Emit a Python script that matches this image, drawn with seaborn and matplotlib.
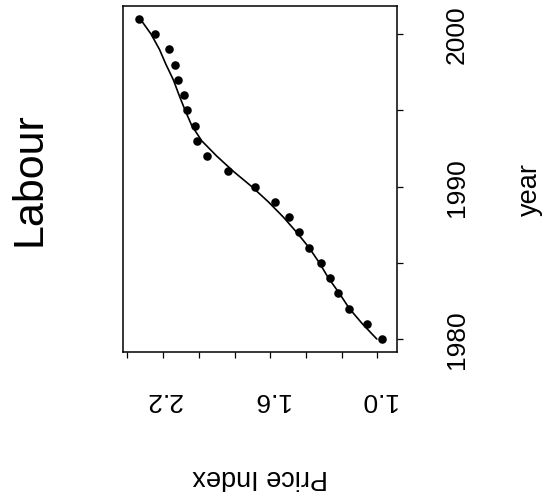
import matplotlib
matplotlib.use("Agg")
import matplotlib.pyplot as plt
import seaborn as sns
import pandas as pd

years = list(range(1980, 2002))
price_index = [0.975, 1.056, 1.157, 1.218, 1.265, 1.317, 1.384, 1.439, 1.495, 1.571,
               1.683, 1.835, 1.954, 2.010, 2.021, 2.066, 2.083, 2.118, 2.132, 2.165,
               2.247, 2.333]
fitted = [1.003, 1.084, 1.157, 1.213, 1.274, 1.325, 1.383, 1.452, 1.527, 1.611,
          1.704, 1.807, 1.900, 1.984, 2.040, 2.077, 2.111, 2.143, 2.184, 2.221,
          2.268, 2.329]
x_ticks = [1.0, 1.2, 1.4, 1.6, 1.8, 2.0, 2.2, 2.4]
x_ticklabels = ["1.0", "", "", "1.6", "", "", "2.2", ""]
y_ticks = [1980, 1985, 1990, 1995, 2000]
y_ticklabels = ["1980", "", "1990", "", "2000"]
title = "Labour"
xlabel = "Price Index"
ylabel = "year"

df = pd.DataFrame({"year": years, "price": price_index, "fit": fitted})

sns.set_style("ticks")
plt.rcParams["font.family"] = ["Liberation Sans", "DejaVu Sans"]
plt.rcParams["text.color"] = "black"
plt.rcParams["xtick.labelcolor"] = "black"
plt.rcParams["ytick.labelcolor"] = "black"

fig = plt.figure(figsize=(5.46, 5.02), dpi=100)
ax = fig.add_axes([0.2253, 0.2968, 0.5018, 0.6892])

sns.lineplot(data=df, x="fit", y="year", sort=False, estimator=None,
             color="black", linewidth=1.2, ax=ax)
sns.scatterplot(data=df, x="price", y="year", color="black", s=38,
                edgecolor="black", linewidth=0, ax=ax, zorder=3)

ax.set_xlim(2.425, 0.89)
ax.set_ylim(1979.15, 2001.84)
ax.set_xlabel("")
ax.set_ylabel("")

ax.set_xticks(x_ticks)
ax.set_xticklabels(x_ticklabels)
ax.set_yticks(y_ticks)
ax.set_yticklabels(y_ticklabels)

ax.yaxis.tick_right()
ax.tick_params(axis="y", left=False, right=True, labelleft=False, labelright=True,
               length=4.3, width=0.9, pad=30, labelsize=19, rotation=90,
               color="black", labelcolor="black")
ax.tick_params(axis="x", length=4.3, width=0.9, pad=21, labelsize=19,
               rotation=180, color="black", labelcolor="black")
for lab in ax.get_yticklabels():
    lab.set_va("center")
    lab.set_ha("left")
for lab in ax.get_xticklabels():
    lab.set_ha("center")
    lab.set_va("top")

for sp in ax.spines.values():
    sp.set_visible(True)
    sp.set_linewidth(1.1)
    sp.set_color("black")

W, H = 546, 502
fig.text(29 / W, 1 - 179 / H, title, rotation=90, ha="center", va="center",
         fontsize=31, color="black")
fig.text(260 / W, 1 - 476.7 / H, xlabel, rotation=180, ha="center", va="center",
         fontsize=19.5, color="black")
fig.text(530 / W, 1 - 190 / H, ylabel, rotation=90, ha="center", va="center",
         fontsize=19.5, color="black")

fig.savefig("out.png", dpi=100)
